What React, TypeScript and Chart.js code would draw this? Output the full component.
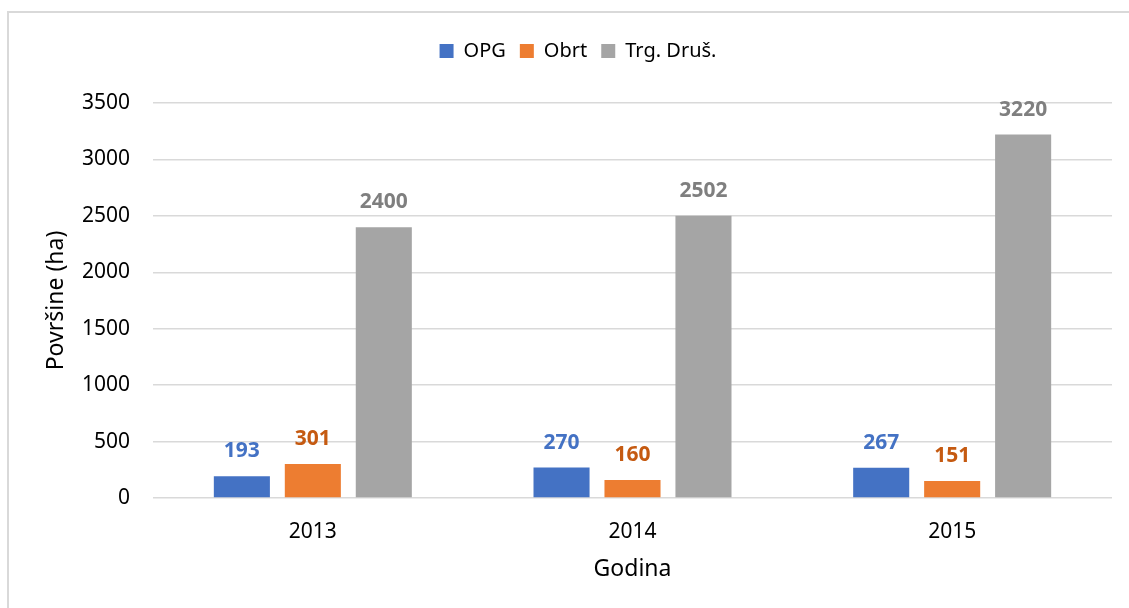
import React, { useEffect, useRef } from 'react';
import { Chart, registerables } from 'chart.js';

Chart.register(...registerables);

const categories = ['2013', '2014', '2015'];
const seriesNames = ['OPG', 'Obrt', 'Trg. Druš.'];
const opgValues = [193, 270, 267];
const obrtValues = [301, 160, 151];
const trgValues = [2400, 2502, 3220];
const seriesColors = ['#4472C4', '#ED7D31', '#A5A5A5'];
const labelColors = ['#4472C4', '#C55A11', '#7F7F7F'];
const yMin = 0;
const yMax = 3500;
const yStep = 500;
const yAxisTitle = 'Površine (ha)';
const xAxisTitle = 'Godina';

const FONT = '"Noto Sans", "Open Sans", sans-serif';

const valueLabelPlugin = {
  id: 'valueLabels',
  afterDatasetsDraw(chart: any) {
    const ctx = chart.ctx;
    ctx.save();
    ctx.font = `bold 21px ${FONT}`;
    ctx.textAlign = 'center';
    ctx.textBaseline = 'middle';
    chart.data.datasets.forEach((ds: any, i: number) => {
      const meta = chart.getDatasetMeta(i);
      ctx.fillStyle = labelColors[i];
      meta.data.forEach((bar: any, j: number) => {
        ctx.fillText(String(ds.data[j]), bar.x, bar.y - 25);
      });
    });
    ctx.restore();
  },
};

export default function App() {
  const canvasRef = useRef<HTMLCanvasElement | null>(null);

  useEffect(() => {
    if (!canvasRef.current) return;
    const values = [opgValues, obrtValues, trgValues];
    const chart = new Chart(canvasRef.current, {
      type: 'bar',
      data: {
        labels: categories,
        datasets: seriesNames.map((name, i) => ({
          label: name,
          data: values[i],
          backgroundColor: seriesColors[i],
          borderWidth: 0,
          categoryPercentage: 0.666,
          barPercentage: 0.79,
        })),
      },
      options: {
        responsive: false,
        animation: false,
        layout: { padding: { left: 27, top: 27, right: 0, bottom: 0 } },
        plugins: {
          legend: {
            position: 'top',
            labels: {
              boxWidth: 14,
              boxHeight: 14,
              padding: 14,
              color: '#000',
              font: { family: FONT, size: 20 },
            },
          },
          title: {
            display: true,
            text: '',
            weight: 500,
            font: { size: 10, lineHeight: 1 },
            padding: { top: 0, bottom: 22 },
          },
          tooltip: { enabled: false },
        },
        scales: {
          x: {
            grid: { display: false },
            border: { display: false },
            ticks: { color: '#000', font: { family: FONT, size: 21 }, padding: 13 },
            title: {
              display: true,
              text: xAxisTitle,
              color: '#000',
              font: { family: FONT, size: 23 },
              padding: { top: 0, bottom: 25 },
            },
            afterFit(scale: any) {
              scale.height = 110;
            },
          },
          y: {
            min: yMin,
            max: yMax,
            grid: { color: '#D9D9D9', lineWidth: 1.5, drawTicks: false },
            border: { display: false },
            ticks: {
              stepSize: yStep,
              color: '#000',
              font: { family: FONT, size: 21 },
              padding: 23,
              callback: (v: any) => String(v),
            },
            title: {
              display: true,
              text: yAxisTitle,
              color: '#000',
              font: { family: FONT, size: 23 },
              padding: { top: 16, bottom: 0 },
            },
            afterFit(scale: any) {
              scale.width = 126;
            },
          },
          yRight: {
            position: 'right',
            display: true,
            grid: { display: false },
            border: { display: false },
            ticks: { display: false },
            afterFit(scale: any) {
              scale.width = 17;
            },
          },
        },
      } as any,
      plugins: [valueLabelPlugin],
    });
    return () => chart.destroy();
  }, []);

  return (
    <div
      style={{
        position: 'fixed',
        left: 0,
        top: 0,
        width: 1129,
        height: 608,
        overflow: 'hidden',
        background: '#fff',
      }}
    >
      <div
        style={{
          position: 'absolute',
          left: 7,
          top: 11,
          width: 1200,
          height: 700,
          borderLeft: '2px solid #D9D9D9',
          borderTop: '2px solid #D9D9D9',
        }}
      />
      <canvas
        ref={canvasRef}
        width={1129}
        height={608}
        style={{ position: 'absolute', left: 0, top: 0, display: 'block' }}
      />
    </div>
  );
}
